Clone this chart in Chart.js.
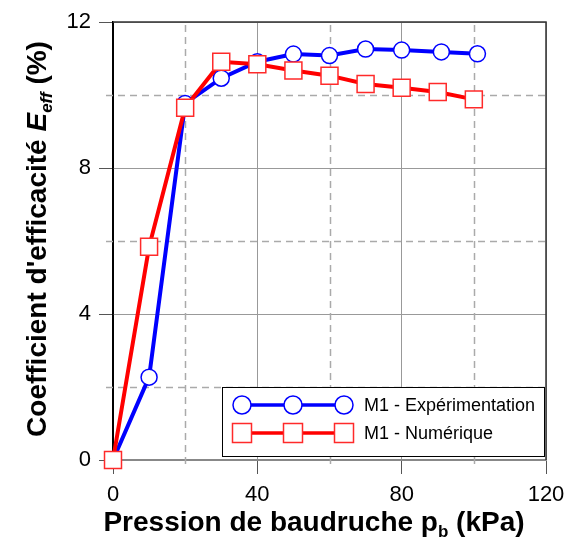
<!DOCTYPE html>
<html>
<head>
<meta charset="utf-8">
<script src="https://cdn.jsdelivr.net/npm/chart.js@4.4.1/dist/chart.umd.min.js"></script>
<style>
  html, body { margin: 0; padding: 0; background: #fff; }
</style>
</head>
<body>
<canvas id="chart" width="569" height="540"></canvas>
<script>
// values
const PRESSURE_EXP = [0, 10, 20, 30, 40, 50, 60, 70, 80, 91, 101];
const EFF_EXP = [0, 2.27, 9.77, 10.46, 10.91, 11.12, 11.08, 11.26, 11.23, 11.18, 11.13];
const PRESSURE_NUM = [0, 10, 20, 30, 40, 50, 60, 70, 80, 90, 100];
const EFF_NUM = [0, 5.84, 9.65, 10.91, 10.84, 10.67, 10.53, 10.30, 10.20, 10.08, 9.88];

const X_TICKS = [0, 40, 80, 120];
const X_MINOR = [20, 60, 100];
const Y_TICKS = [0, 4, 8, 12];
const Y_MINOR = [2, 6, 10];

const SERIES_LABELS = ["M1 - Expérimentation", "M1 - Numérique"];

const FONT = "'Liberation Sans', Arial, Helvetica, sans-serif";
const BLUE = "#0000ff";
const RED = "#ff0000";

const toPoints = (xs, ys) => xs.map((x, i) => ({ x: x, y: ys[i] }));

// dashed minor grid, short minor ticks and the closing frame
const gridPlugin = {
	id: "minorGrid",
	beforeDatasetsDraw(chart) {
		const { ctx, chartArea: a, scales } = chart;
		ctx.save();
		ctx.strokeStyle = "#aaa";
		ctx.lineWidth = 1.5;
		ctx.setLineDash([7, 5]);
		X_MINOR.forEach(v => {
			const px = Math.round(scales.x.getPixelForValue(v)) + 0.5;
			ctx.beginPath();
			ctx.moveTo(px, a.bottom + 4);
			ctx.lineTo(px, a.top);
			ctx.stroke();
		});
		Y_MINOR.forEach(v => {
			const py = Math.round(scales.y.getPixelForValue(v)) + 0.5;
			ctx.beginPath();
			ctx.moveTo(a.left - 7, py);
			ctx.lineTo(a.right, py);
			ctx.stroke();
		});
		ctx.setLineDash([]);
		ctx.strokeStyle = "#333";
		ctx.lineWidth = 1.5;
		ctx.beginPath();
		ctx.moveTo(a.left, a.top);
		ctx.lineTo(a.right, a.top);
		ctx.lineTo(a.right, a.bottom);
		ctx.stroke();
		ctx.restore();
	},
};

// draws a run of text pieces (for the subscripts) centred on x
function drawRich(ctx, parts, x, y) {
	let total = 0;
	parts.forEach(p => {
		ctx.font = p.font;
		p.w = ctx.measureText(p.text).width;
		total += p.w;
	});
	let cx = x - total / 2;
	parts.forEach(p => {
		ctx.font = p.font;
		ctx.fillText(p.text, cx, y + (p.dy || 0));
		cx += p.w;
	});
}

const titlePlugin = {
	id: "axisTitles",
	afterDraw(chart) {
		const { ctx } = chart;
		ctx.save();
		ctx.fillStyle = "#000";
		ctx.textBaseline = "alphabetic";
		ctx.textAlign = "left";
		drawRich(ctx, [
			{ text: "Pression de baudruche p", font: "bold 28px " + FONT },
			{ text: "b", font: "bold 17px " + FONT, dy: 6 },
			{ text: " (kPa)", font: "bold 28px " + FONT },
		], 314, 531);

		ctx.translate(46, 239);
		ctx.rotate(-Math.PI / 2);
		drawRich(ctx, [
			{ text: "Coefficient d'efficacité ", font: "bold 28px " + FONT },
			{ text: "E", font: "italic bold 28px " + FONT },
			{ text: "eff", font: "italic bold 17px " + FONT, dy: 6 },
			{ text: " (%)", font: "bold 28px " + FONT },
		], 0, 0);
		ctx.restore();
	},
};

function drawMarker(ctx, ds, x, y, r) {
	ctx.beginPath();
	if (ds.pointStyle === "rect") {
		ctx.rect(x - r, y - r, 2 * r, 2 * r);
	} else {
		ctx.arc(x, y, r, 0, Math.PI * 2);
	}
	ctx.fillStyle = "#fff";
	ctx.fill();
	ctx.lineWidth = 1.5;
	ctx.strokeStyle = ds.pointBorderColor;
	ctx.stroke();
}

const legendPlugin = {
	id: "boxLegend",
	afterDraw(chart) {
		const { ctx, chartArea: a } = chart;
		const left = a.right - 324, top = a.bottom - 73;
		ctx.save();
		ctx.fillStyle = "#fff";
		ctx.fillRect(left, top, 322, 69);
		ctx.strokeStyle = "#000";
		ctx.lineWidth = 1;
		ctx.strokeRect(left + 0.5, top + 0.5, 322, 69);

		const rows = [chart.data.datasets[1], chart.data.datasets[0]];
		rows.forEach((ds, i) => {
			const y = top + 18 + i * 28;
			const xs = [left + 20, left + 71, left + 122];
			ctx.strokeStyle = ds.borderColor;
			ctx.lineWidth = 3.5;
			ctx.beginPath();
			ctx.moveTo(xs[0], y);
			ctx.lineTo(xs[2], y);
			ctx.stroke();
			xs.forEach(x => drawMarker(ctx, ds, x, y, ds.pointStyle === "rect" ? 9.5 : 9));
			ctx.fillStyle = "#000";
			ctx.font = "18px " + FONT;
			ctx.textBaseline = "middle";
			ctx.fillText(ds.label, left + 142, y + 1);
		});
		ctx.restore();
	},
};

new Chart(document.getElementById("chart"), {
	type: "line",
	data: {
		datasets: [
			{
				label: SERIES_LABELS[1],
				data: toPoints(PRESSURE_NUM, EFF_NUM),
				borderColor: RED,
				borderWidth: 4,
				pointStyle: "rect",
				pointRadius: 12,
				pointBackgroundColor: "#fff",
				pointBorderColor: "#ff2a2a",
				pointBorderWidth: 1.5,
				clip: false,
				order: 0,
			},
			{
				label: SERIES_LABELS[0],
				data: toPoints(PRESSURE_EXP, EFF_EXP),
				borderColor: BLUE,
				borderWidth: 4,
				pointStyle: "circle",
				pointRadius: 8,
				pointBackgroundColor: "#fff",
				pointBorderColor: BLUE,
				pointBorderWidth: 1.5,
				clip: false,
				order: 1,
			},
		],
	},
	options: {
		responsive: false,
		animation: false,
		events: [],
		layout: { padding: { top: 22, right: 23, left: 0, bottom: 0 } },
		plugins: {
			legend: { display: false },
			tooltip: { enabled: false },
		},
		scales: {
			x: {
				type: "linear",
				min: 0,
				max: 120,
				afterBuildTicks: s => { s.ticks = X_TICKS.map(v => ({ value: v })); },
				afterFit: s => { s.height = 80; s.paddingLeft = 0; s.paddingRight = 0; },
				grid: {
					color: c => c.tick && c.tick.value === 0 ? "#000" : "#999",
					lineWidth: 1,
					tickLength: 14,
					tickColor: "#555",
				},
				border: { color: "#888", width: 1.5 },
				ticks: { font: { family: FONT, size: 22 }, color: "#000", padding: 8 },
			},
			y: {
				min: 0,
				max: 12,
				afterBuildTicks: s => { s.ticks = Y_TICKS.map(v => ({ value: v })); },
				afterFit: s => { s.width = 113; s.paddingTop = 0; s.paddingBottom = 0; },
				grid: {
					color: c => c.tick && c.tick.value === 0 ? "#888" : "#999",
					lineWidth: 1,
					tickLength: 14,
					tickColor: "#555",
				},
				border: { color: "#000", width: 1.5 },
				ticks: { font: { family: FONT, size: 22 }, color: "#000", padding: 8 },
			},
		},
	},
	plugins: [gridPlugin, titlePlugin, legendPlugin],
});
</script>
</body>
</html>
